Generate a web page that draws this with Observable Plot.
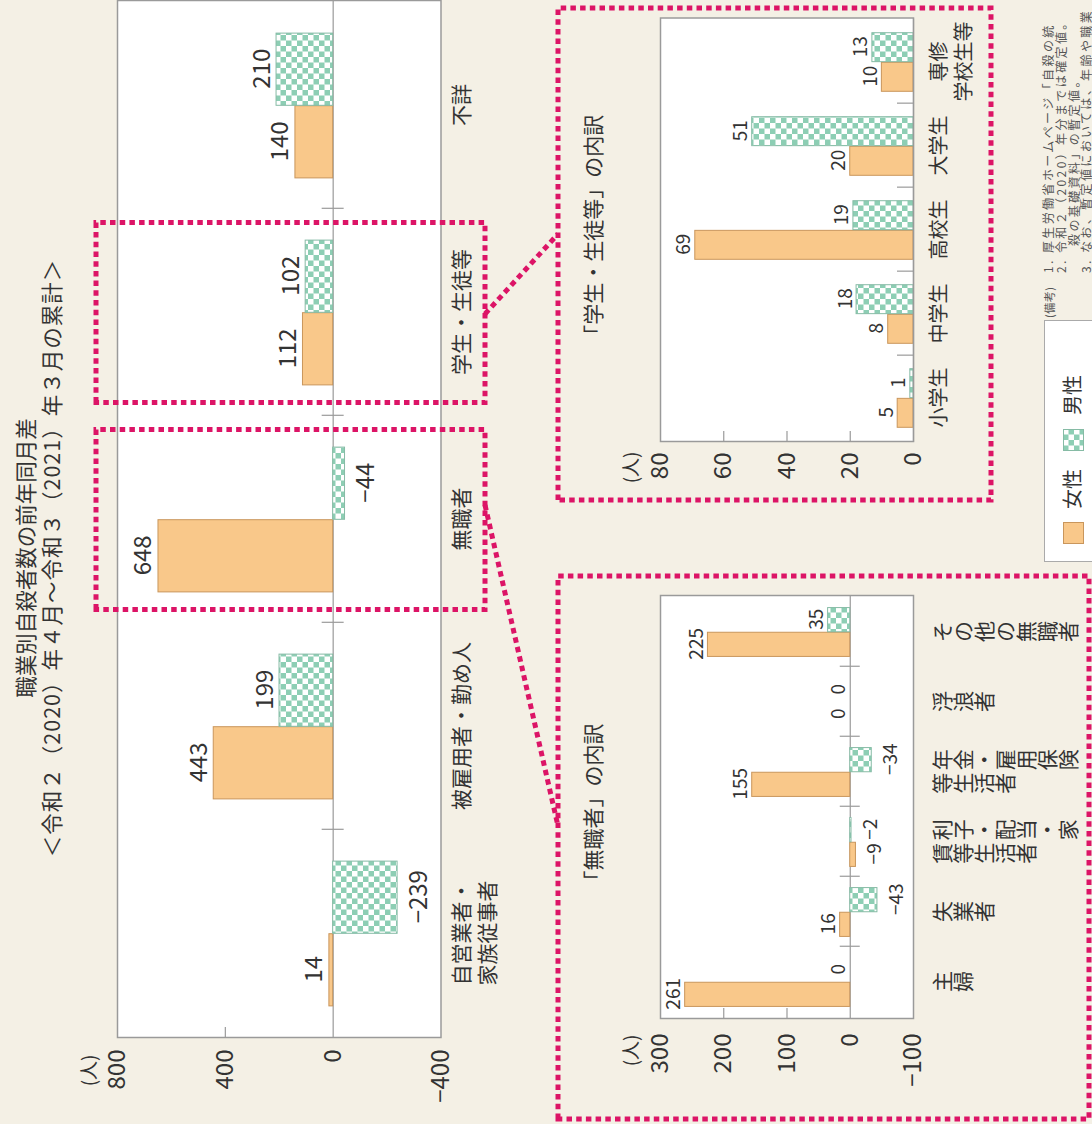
<!DOCTYPE html>
<html><head><meta charset="utf-8">
<script src="https://cdn.jsdelivr.net/npm/d3@7"></script>
<script src="https://cdn.jsdelivr.net/npm/@observablehq/plot@0.6"></script>
<style>
html,body{margin:0;padding:0;}
body{width:1092px;height:1124px;overflow:hidden;background:#f4f0e5;font-family:"Noto Sans CJK JP","Noto Sans",sans-serif;color:#333;}
#page{position:absolute;left:0;top:0;width:1124px;height:1092px;transform-origin:0 0;transform:translate(0px,1124px) rotate(-90deg);}
.abs{position:absolute;white-space:nowrap;}
.note{position:absolute;white-space:nowrap;font-size:12px;line-height:12px;color:#555;letter-spacing:2.4px;}
</style></head><body>
<svg width="0" height="0" style="position:absolute">
<defs>
<pattern id="checker" patternUnits="userSpaceOnUse" width="11" height="11">
<rect width="11" height="11" fill="#ffffff"/>
<rect width="5.5" height="5.5" fill="#8dceb4"/>
<rect x="5.5" y="5.5" width="5.5" height="5.5" fill="#8dceb4"/>
</pattern></defs></svg>
<div id="page"></div>
<script>
// ---- data ----
const mainCategories = ["自営業者・家族従事者", "被雇用者・勤め人", "無職者", "学生・生徒等", "不詳"];
const mainLabels = ["自営業者・\n家族従事者", "被雇用者・勤め人", "無職者", "学生・生徒等", "不詳"];
const mainFemale = [14, 443, 648, 112, 140];
const mainMale = [-239, 199, -44, 102, 210];
const mainTicks = [800, 400, 0, -400];

const studentCategories = ["小学生", "中学生", "高校生", "大学生", "専修学校生等"];
const studentLabels = ["小学生", "中学生", "高校生", "大学生", "専修\n学校生等"];
const studentFemale = [5, 8, 69, 20, 10];
const studentMale = [1, 18, 19, 51, 13];
const studentTicks = [80, 60, 40, 20, 0];

const joblessCategories = ["主婦", "失業者", "利子・配当・家賃等生活者", "年金・雇用保険等生活者", "浮浪者", "その他の無職者"];
const joblessLabelColumns = [["主婦"], ["失業者"], ["利子・配当・家", "賃等生活者"], ["年金・雇用保険", "等生活者"], ["浮浪者"], ["その他の無職者"]];
const joblessFemale = [261, 16, -9, 155, 0, 225];
const joblessMale = [0, -43, -2, -34, 0, 35];
const joblessTicks = [300, 200, 100, 0, -100];

const seriesNames = ["女性", "男性"];
const titleLines = ["職業別自殺者数の前年同月差", "＜令和２（2020）年４月～令和３（2021）年３月の累計＞"];
const studentTitle = "「学生・生徒等」の内訳";
const joblessTitle = "「無職者」の内訳";
const unitLabel = "(人)";
const noteLines = [
  "1. 厚生労働省ホームページ「自殺の統",
  "2. 令和２（2020）年分までは確定値。",
  "殺の基礎資料」の暫定値。",
  "3. なお、暫定値においては、年齢や職業"
];

// ---- style ----
const FONT = '"Noto Sans CJK JP","Noto Sans",sans-serif';
const ORANGE = "#f9c88a", ORANGE_STROKE = "#c9965c", GREEN_STROKE = "#86bba5";
const PINK = "#dc1466", INK = "#333333", AXIS = "#9a9a9a";
const W = 1124, H = 1092;
const fmt = v => v < 0 ? "\u2212" + Math.abs(v) : String(v);

function groupedChart(o) {
  const bw = (o.right - o.left) / o.cats.length;
  const rows = o.cats.map((c, i) => ({cat: c, label: o.labels[i], f: o.female[i], m: o.male[i]}));
  const valueMarks = [];
  [["f", -0.175], ["m", 0.175]].forEach(([k, s]) => {
    valueMarks.push(Plot.text(rows.filter(d => d[k] >= 0), {x: "cat", y: k, text: d => fmt(d[k]), dx: s * bw, dy: -o.posGap, lineAnchor: "bottom", fontSize: o.valueFont, fill: INK}));
    valueMarks.push(Plot.text(rows.filter(d => d[k] < 0), {x: "cat", y: k, text: d => fmt(d[k]), dx: s * bw, dy: o.negGap, lineAnchor: "top", fontSize: o.valueFont, fill: INK}));
  });
  return Plot.plot({
    width: W, height: H,
    marginLeft: o.left, marginRight: W - o.right, marginTop: o.top, marginBottom: H - o.bottom,
    style: {background: "transparent", fontFamily: FONT, overflow: "visible", color: INK},
    x: {domain: o.cats, padding: 0, axis: null},
    y: {domain: o.yDomain, axis: null, label: null},
    marks: [
      Plot.frame({fill: "white", stroke: "none"}),
      Plot.tickY(o.innerTicks, {y: d => d, stroke: AXIS, strokeWidth: 1.2, insetRight: (o.right - o.left) - 11}),
      Plot.ruleY([0], {stroke: AXIS, strokeWidth: 1.2}),
      Plot.ruleX(o.cats.slice(0, -1), {x: d => d, dx: bw / 2, y1: 0, y2: 0, insetTop: -o.sepUp, insetBottom: -o.sepDown, stroke: AXIS, strokeWidth: 1.2}),
      Plot.barY(rows, {x: "cat", y: "f", fill: ORANGE, stroke: ORANGE_STROKE, strokeWidth: 1, insetLeft: 0.15 * bw, insetRight: 0.5 * bw}),
      Plot.barY(rows, {x: "cat", y: "m", fill: "url(#checker)", stroke: GREEN_STROKE, strokeWidth: 1, insetLeft: 0.5 * bw, insetRight: 0.15 * bw}),
      ...valueMarks,
      ...o.catMarks(rows),
      Plot.axisY(o.ticks, {tickSize: 0, tickPadding: o.axisPad, fontSize: o.axisFont, tickFormat: fmt, label: null, fill: INK}),
      Plot.text([unitLabel], {text: d => d, frameAnchor: "top-left", dx: o.unitDx, dy: o.unitDy, textAnchor: "end", lineAnchor: "middle", fontSize: 19, fill: INK}),
      Plot.frame({stroke: AXIS, strokeWidth: 1.5})
    ]
  });
}

const mainPlot = groupedChart({
  cats: mainCategories, labels: mainLabels, female: mainFemale, male: mainMale,
  left: 86, right: 1123, top: 117, bottom: 440.5, yDomain: [-400, 800],
  ticks: mainTicks, innerTicks: [400], axisPad: 12, axisFont: 24, valueFont: 24,
  posGap: 7, negGap: 12, unitDx: -17, unitDy: -27.5, sepUp: 11, sepDown: 11,
  catMarks: rows => [Plot.text(rows, {x: "cat", text: "label", frameAnchor: "bottom", lineAnchor: "top", dy: 10, fontSize: 21, lineHeight: 1.22, fill: INK})]
});

const studentPlot = groupedChart({
  cats: studentCategories, labels: studentLabels, female: studentFemale, male: studentMale,
  left: 682, right: 1105.5, top: 660, bottom: 913, yDomain: [0, 80],
  ticks: studentTicks, innerTicks: [60, 40, 20], axisPad: 11, axisFont: 24, valueFont: 19,
  posGap: 5, negGap: 12, unitDx: -10, unitDy: -28.5, sepUp: 16, sepDown: 0,
  catMarks: rows => [Plot.text(rows, {x: "cat", text: "label", frameAnchor: "bottom", lineAnchor: "top", dy: 14, fontSize: 20, lineHeight: 1.28, fill: INK})]
});

const joblessPlot = groupedChart({
  cats: joblessCategories, labels: joblessCategories, female: joblessFemale, male: joblessMale,
  left: 105, right: 528, top: 660, bottom: 913, yDomain: [-100, 300],
  ticks: joblessTicks, innerTicks: [200, 100], axisPad: 15, axisFont: 24, valueFont: 19,
  posGap: 5, negGap: 12, unitDx: -16, unitDy: -28.3, sepUp: 10, sepDown: 10,
  catMarks: rows => {
    const cols = rows.flatMap((d, i) => joblessLabelColumns[i].map((t, j, a) => ({cat: d.cat, t, pos: a.length === 1 ? 0 : (j === 0 ? 1 : -1)})));
    return [-1, 0, 1].map(p => Plot.text(cols.filter(c => c.pos === p), {x: "cat", text: "t", frameAnchor: "bottom", dy: 18, dx: p * 11.75, textAnchor: "start", lineAnchor: "bottom", fontSize: 21, fill: INK}));
  }
});

const page = document.getElementById("page");
for (const p of [mainPlot, studentPlot, joblessPlot]) {
  p.style.position = "absolute"; p.style.left = "0px"; p.style.top = "0px";
  page.appendChild(p);
}
// vertical writing for the jobless category labels
const colSet = new Set(joblessLabelColumns.flat());
d3.select(joblessPlot).selectAll("text").filter(function () { return colSet.has(this.textContent); })
  .style("writing-mode", "vertical-rl").attr("y", null);

// ---- overlay: titles, dotted boxes, connectors ----
const ov = d3.create("svg").attr("width", W).attr("height", H)
  .style("position", "absolute").style("left", "0px").style("top", "0px").style("overflow", "visible")
  .style("font-family", FONT);
ov.append("text").attr("x", 566).attr("y", 24).attr("text-anchor", "middle").attr("dominant-baseline", "central")
  .attr("font-size", 21.5).attr("fill", INK).text(titleLines[0]);
ov.append("text").attr("x", 566).attr("y", 50).attr("text-anchor", "middle").attr("dominant-baseline", "central")
  .attr("font-size", 21.5).attr("fill", INK).attr("letter-spacing", 1).text(titleLines[1]);
ov.append("text").attr("x", (682 + 1105.5) / 2).attr("y", 592).attr("text-anchor", "middle").attr("dominant-baseline", "central")
  .attr("font-size", 21).attr("fill", INK).text(studentTitle);
ov.append("text").attr("x", (105 + 528) / 2).attr("y", 592).attr("text-anchor", "middle").attr("dominant-baseline", "central")
  .attr("font-size", 21).attr("fill", INK).text(joblessTitle);

const mx = mainPlot.scale("x");
const bwMain = mx.bandwidth;
const dotted = sel => sel.attr("fill", "none").attr("stroke", PINK).attr("stroke-width", 5).attr("stroke-dasharray", "5.5 4.2");
function box(u1, v1, u2, v2) { ov.append("rect").attr("x", u1).attr("y", v1).attr("width", u2 - u1).attr("height", v2 - v1).call(dotted); }
const aStart = mx.apply("学生・生徒等"), bStart = mx.apply("無職者");
box(aStart + 13.5, 96, aStart + bwMain - 13.5, 485);
box(bStart + 13.5, 96, bStart + bwMain - 13.5, 485);
box(624, 558, 1116, 991);
box(5, 558, 548, 1089);
ov.append("line").attr("x1", 810).attr("y1", 485).attr("x2", 890).attr("y2", 558).call(dotted);
ov.append("line").attr("x1", 619).attr("y1", 485).attr("x2", 298).attr("y2", 558).call(dotted);
page.appendChild(ov.node());

// ---- legend ----
const legend = document.createElement("div");
legend.className = "abs";
Object.assign(legend.style, {left: "562px", top: "1044px", width: "240px", height: "80px", background: "#fff", border: "1.5px solid #aaa"});
const sw = (left, fill, stroke) => `<svg class="abs" style="left:${left}px;top:18px" width="22" height="21"><rect x="0.5" y="0.5" width="21" height="20" fill="${fill}" stroke="${stroke}"/></svg>`;
legend.innerHTML = sw(17, ORANGE, ORANGE_STROKE) +
  `<div class="abs" style="left:52px;top:13px;font-size:20px;line-height:28px;color:${INK}">${seriesNames[0]}</div>` +
  sw(110, "url(#checker)", GREEN_STROKE) +
  `<div class="abs" style="left:146px;top:13px;font-size:20px;line-height:28px;color:${INK}">${seriesNames[1]}</div>`;
page.appendChild(legend);

// ---- notes ----
const notes = [
  [806, 1043, "(備考)", 11],
  [851, 1042, noteLines[0], 12],
  [851, 1055, noteLines[1], 12],
  [878, 1068, noteLines[2], 12],
  [851, 1080, noteLines[3], 12]
];
for (const [l, t, s, fs] of notes) {
  const d = document.createElement("div");
  d.className = "note"; d.style.left = l + "px"; d.style.top = t + "px"; d.style.fontSize = fs + "px";
  if (fs < 12) d.style.letterSpacing = "0.5px";
  d.textContent = s;
  page.appendChild(d);
}
</script>
</body></html>
